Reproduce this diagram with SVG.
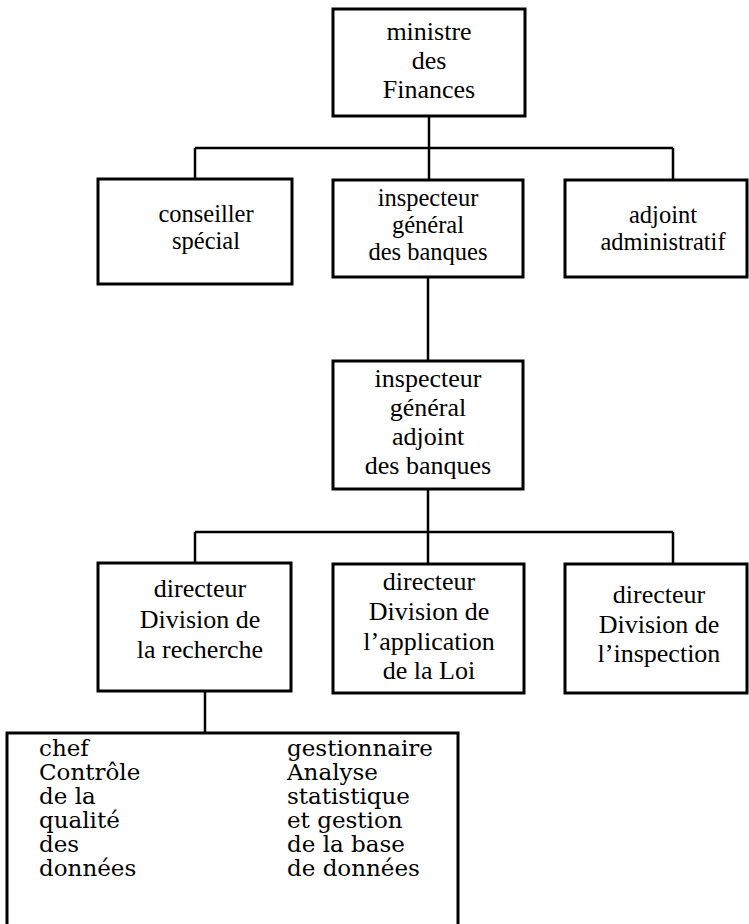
<svg xmlns="http://www.w3.org/2000/svg" width="749" height="924" viewBox="0 0 749 924">
<style>
.box{fill:#fff;stroke:#000;stroke-width:3}
.t{font-family:"Liberation Serif","Times New Roman",serif;font-size:26px;fill:#000;text-anchor:middle}
.s{font-size:24.5px}
.b{font-family:"DejaVu Serif","Liberation Serif",serif;font-size:23px;fill:#000}
.c{fill:none;stroke:#000;stroke-width:2.5}
</style>
<rect width="749" height="924" fill="#fff"/>
<g id="connectors">
<path class="c" d="M429 116V180M195 148H673M195 148V179M673 148V180"/>
<path class="c" d="M428 277V361"/>
<path class="c" d="M428 489V564M195 532H673M195 532V563M673 532V564"/>
<path class="c" d="M205 691V733"/>
</g>
<g id="ministre">
<rect class="box" x="333" y="9" width="192" height="107"/>
<text class="t" x="429" y="40">ministre</text>
<text class="t" x="429" y="69">des</text>
<text class="t" x="429" y="98">Finances</text>
</g>
<g id="conseiller">
<rect class="box" x="98" y="179" width="194" height="105"/>
<text class="t s" x="206" y="222">conseiller</text>
<text class="t s" x="206" y="249">spécial</text>
</g>
<g id="inspecteur">
<rect class="box" x="333" y="180" width="190" height="97"/>
<text class="t s" x="428" y="206">inspecteur</text>
<text class="t s" x="428" y="233">général</text>
<text class="t s" x="428" y="260">des banques</text>
</g>
<g id="adjoint-admin">
<rect class="box" x="565" y="180" width="182" height="97"/>
<text class="t s" x="663" y="223">adjoint</text>
<text class="t s" x="663" y="250">administratif</text>
</g>
<g id="inspecteur-adjoint">
<rect class="box" x="333" y="361" width="190" height="128"/>
<text class="t" x="428" y="387">inspecteur</text>
<text class="t" x="428" y="416">général</text>
<text class="t" x="428" y="445">adjoint</text>
<text class="t" x="428" y="474">des banques</text>
</g>
<g id="dir-recherche">
<rect class="box" x="98" y="563" width="193" height="128"/>
<text class="t" x="200" y="597">directeur</text>
<text class="t" x="200" y="628">Division de</text>
<text class="t" x="200" y="658">la recherche</text>
</g>
<g id="dir-application">
<rect class="box" x="333" y="564" width="191" height="129"/>
<text class="t" x="429" y="590">directeur</text>
<text class="t" x="429" y="620">Division de</text>
<text class="t" x="429" y="650">l’application</text>
<text class="t" x="429" y="679">de la Loi</text>
</g>
<g id="dir-inspection">
<rect class="box" x="565" y="564" width="182" height="129"/>
<text class="t" x="659" y="603">directeur</text>
<text class="t" x="659" y="633">Division de</text>
<text class="t" x="659" y="662">l’inspection</text>
</g>
<g id="chef-gestionnaire">
<rect class="box" x="7" y="733" width="451" height="200"/>
<text class="b" x="39" y="756">chef</text>
<text class="b" x="39" y="780">Contrôle</text>
<text class="b" x="39" y="804">de la</text>
<text class="b" x="39" y="828">qualité</text>
<text class="b" x="39" y="852">des</text>
<text class="b" x="39" y="876">données</text>
<text class="b" x="287" y="756">gestionnaire</text>
<text class="b" x="287" y="780">Analyse</text>
<text class="b" x="287" y="804">statistique</text>
<text class="b" x="287" y="828">et gestion</text>
<text class="b" x="287" y="852">de la base</text>
<text class="b" x="287" y="876">de données</text>
</g>
</svg>
